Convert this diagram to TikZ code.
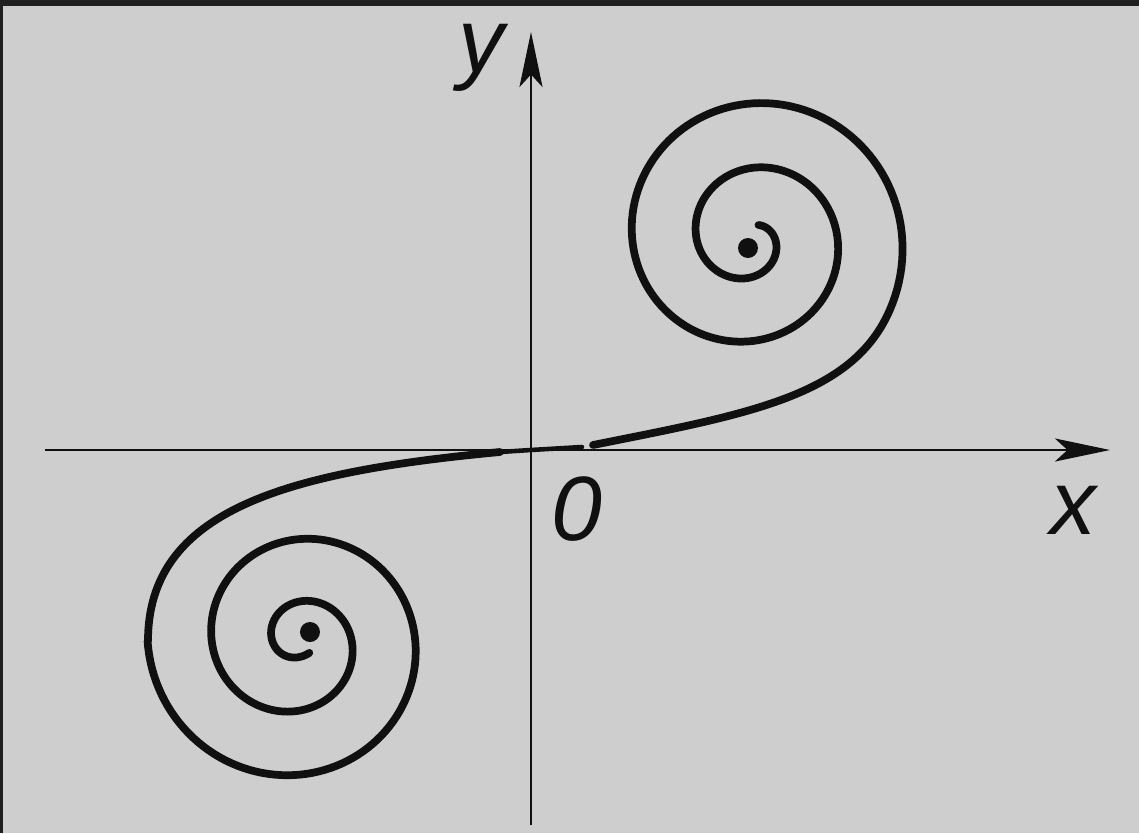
\documentclass[tikz,border=0pt]{standalone}
\usepackage{fontspec}
\setmainfont{Liberation Sans}
\usetikzlibrary{arrows.meta}

\definecolor{paper}{RGB}{206,206,206}
\definecolor{edge}{RGB}{32,32,32}
\definecolor{ink}{RGB}{16,16,16}

\begin{document}
\begin{tikzpicture}[
  x=0.02cm, y=0.02cm,
  declare function={rup(\t)=10*sqrt((15.075-0.01806*\t)^2+1.44);
                    rlo(\t)=10*sqrt((18.15-0.018*\t)^2+2.56);},
  axis/.style={draw=ink, line width=1.6pt, -{Stealth[length=1.1cm, width=0.46cm, inset=0.25cm]}},
  curve/.style={draw=ink, line width=4.4pt, line cap=round, line join=round},
  thincurve/.style={draw=ink, line width=2.6pt, line cap=round},
  lbl/.style={font=\fontsize{52}{52}\selectfont\itshape, text=ink, inner sep=0pt},
  centre/.style={circle, fill=ink, inner sep=0pt, minimum size=0.4cm}
]

% paper and scan edge
\useasboundingbox (-531,-383) rectangle (608,450);
\fill[paper] (-531,-383) rectangle (608,450);
\fill[edge] (-531,444) rectangle (608,450);
\fill[edge] (-531,-383) rectangle (-528,450);

% axes
\coordinate (O) at (0,0);
\coordinate (xs) at (-486,0);
\coordinate (xe) at (579,0);
\coordinate (ys) at (0,-375);
\coordinate (ye) at (0,418);
\draw[axis] (xs) -- (xe);
\draw[axis] (ys) -- (ye);

\node[lbl] (ylab) at (-50,392) {y};
\node[lbl] (xlab) at (542,-60) {x};
\node[lbl] (olab) at (46,-59) {0};

% spiral centres
\node[centre] (cup) at (217,202) {};
\node[centre] (cdown) at (-221,-182) {};

% curve through the origin
\coordinate (la) at (-31,-2);
\coordinate (ra) at (51,3);
\coordinate (rb) at (62,5);
\draw[thincurve] plot[smooth] coordinates {(la) (O) (ra)};

% lower spiral
\draw[curve] (la) .. controls (-245,-22) and (-383,-60) .. (-383,-191)
  -- plot[domain=180:1035, samples=320, variable=\t]
     ({-233.5+rlo(\t)*cos(\t)}, {-191+rlo(\t)*sin(\t)});

% upper spiral
\draw[curve] (rb) .. controls (212,35) and (315.8,52.5) .. (355.6,133.2)
  -- plot[domain=-30:781, samples=300, variable=\t]
     ({220+rup(\t)*cos(\t)}, {211.5+rup(\t)*sin(\t)});

\end{tikzpicture}
\end{document}
